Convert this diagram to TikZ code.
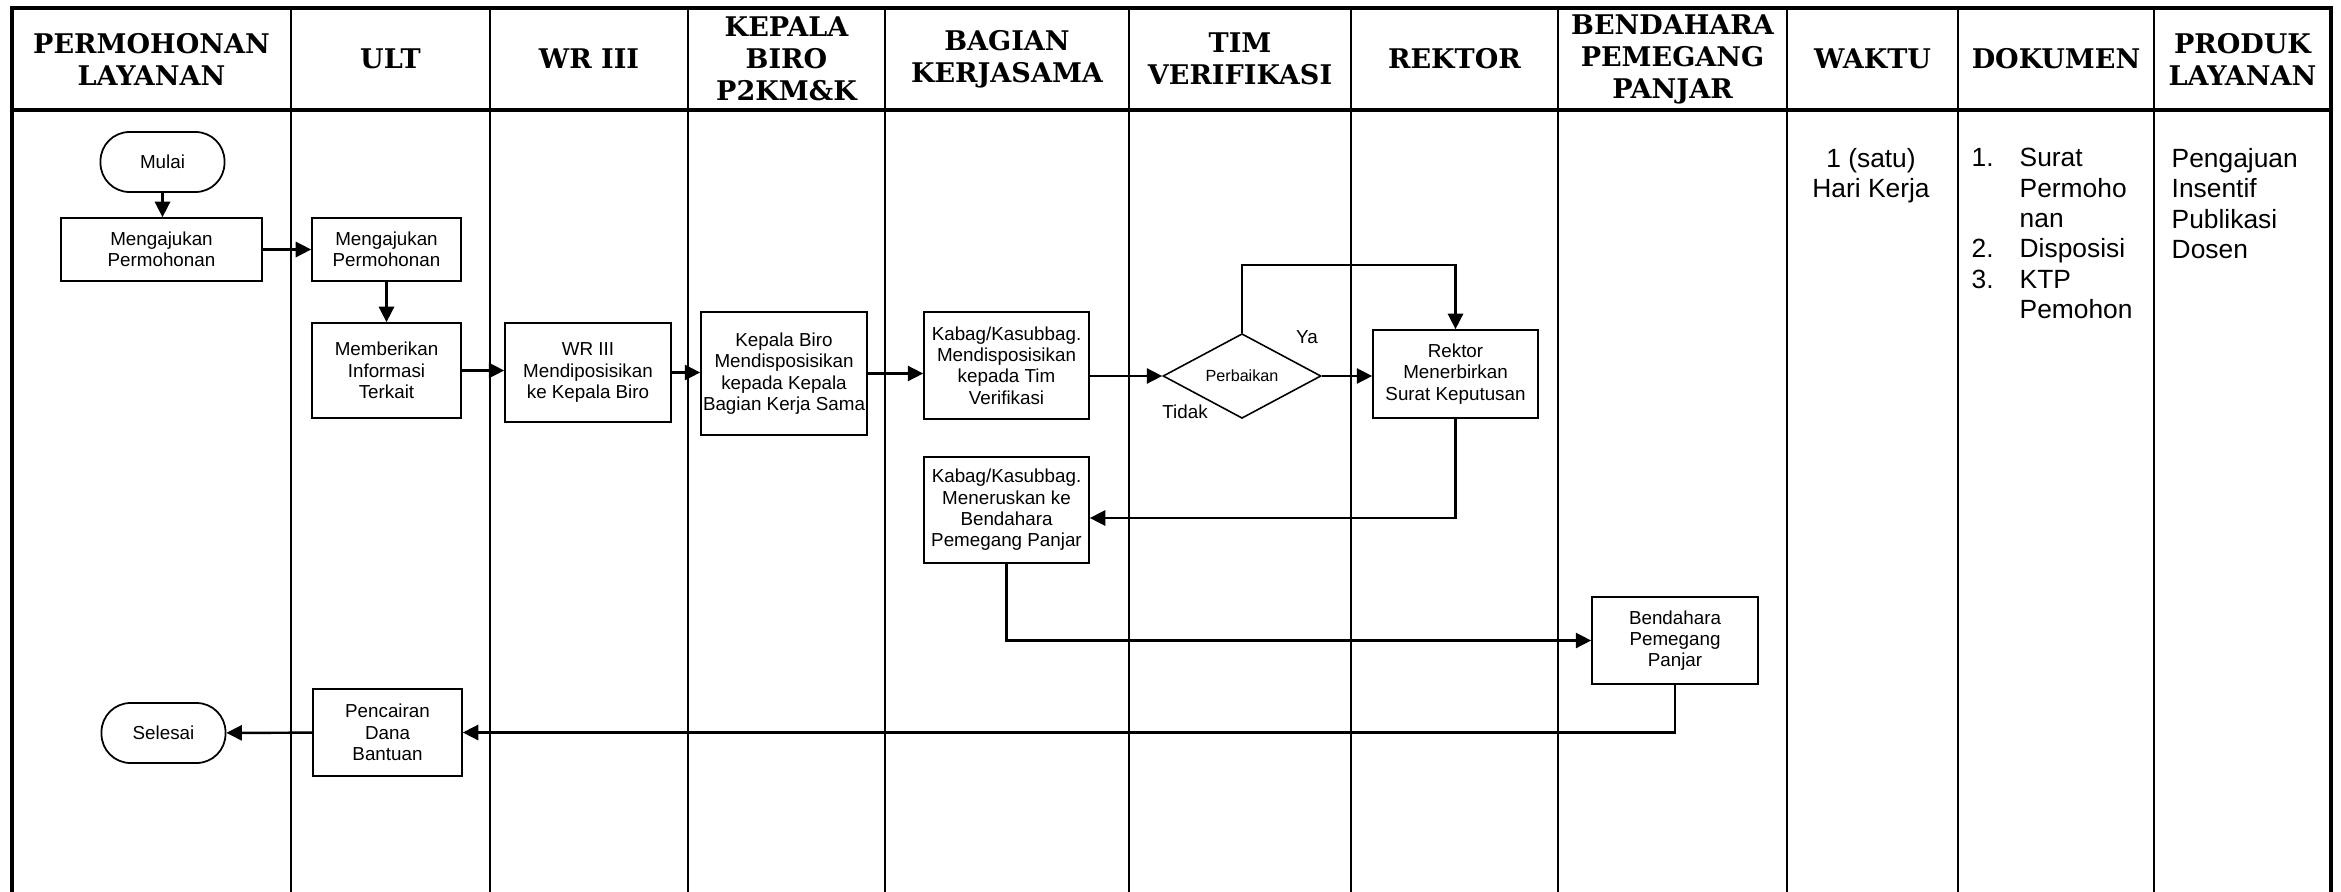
\documentclass[tikz,border=0pt]{standalone}
\usepackage{fontspec}
\setmainfont{Liberation Sans}
\newfontfamily\hdrfont{DejaVu Serif}
\usepackage{tikz}
\usetikzlibrary{shapes.geometric, arrows.meta, positioning, calc}

\begin{document}
\begin{tikzpicture}[
    frame/.style={line width=0.9pt},
    lane/.style={line width=0.6pt},
    hdr/.style={align=center, font=\hdrfont\bfseries\fontsize{7.7}{9.1}\selectfont, inner sep=0pt},
    proc/.style={rectangle, draw, line width=0.45pt, align=center, font=\fontsize{5.35}{6.05}\selectfont, inner sep=0.5pt},
    term/.style={rectangle, draw, rounded corners=0.29cm, line width=0.5pt, minimum width=1.24cm, minimum height=0.6cm, font=\fontsize{5.35}{6.05}\selectfont},
    decide/.style={diamond, draw, line width=0.45pt, minimum width=1.58cm, minimum height=0.8cm, inner sep=0pt, font=\fontsize{4.6}{5.5}\selectfont},
    arrow/.style={-{Triangle[length=4.4pt, width=4.3pt]}, line width=0.7pt},
    lbl/.style={font=\fontsize{5.35}{6.4}\selectfont, inner sep=0pt},
    info/.style={align=left, font=\fontsize{7.5}{8.65}\selectfont, inner sep=0pt, anchor=north west},
]
\useasboundingbox (0,0) rectangle (23.41,-8.92);

% table frame and lanes
\draw[frame] (0.12,-8.92) -- (0.12,-0.08) -- (23.31,-0.08) -- (23.31,-8.92);
\draw[frame] (0.12,-1.10) -- (23.31,-1.10);
\foreach \x in {2.91,4.90,6.88,8.85,11.29,13.51,15.58,17.87,19.58,21.54}
    \draw[lane] (\x,-0.08) -- (\x,-8.92);

% header
\node[hdr] (hPemohon) at (1.515,-0.59) {PERMOHONAN\\LAYANAN};
\node[hdr] (hUlt) at (3.905,-0.59) {ULT};
\node[hdr] (hWr) at (5.89,-0.59) {WR III};
\node[hdr] (hBiro) at (7.865,-0.59) {KEPALA\\BIRO\\P2KM\&K};
\node[hdr] (hKerjasama) at (10.07,-0.59) {BAGIAN\\KERJASAMA};
\node[hdr] (hTim) at (12.40,-0.59) {TIM\\VERIFIKASI};
\node[hdr] (hRektor) at (14.545,-0.59) {REKTOR};
\node[hdr] (hBendahara) at (16.725,-0.59) {BENDAHARA\\PEMEGANG\\PANJAR};
\node[hdr] (hWaktu) at (18.725,-0.59) {WAKTU};
\node[hdr] (hDokumen) at (20.56,-0.59) {DOKUMEN};
\node[hdr] (hProduk) at (22.425,-0.59) {PRODUK\\LAYANAN};

% flow
\node[term] (mulai) at (1.625,-1.62) {Mulai};
\node[proc, minimum width=2.01cm, minimum height=0.63cm] (ajuPemohon) at (1.615,-2.495) {Mengajukan\\Permohonan};
\node[proc, minimum width=1.49cm, minimum height=0.63cm] (ajuUlt) at (3.865,-2.495) {Mengajukan\\Permohonan};
\node[proc, minimum width=1.49cm, minimum height=0.95cm] (beriInfo) at (3.865,-3.705) {Memberikan\\Informasi\\Terkait};
\node[proc, minimum width=1.66cm, minimum height=0.99cm] (wrDispo) at (5.88,-3.725) {WR III\\Mendiposisikan\\ke Kepala Biro};
\node[proc, minimum width=1.66cm, minimum height=1.23cm] (biroDispo) at (7.84,-3.735) {Kepala Biro\\Mendisposisikan\\kepada Kepala\\Bagian Kerja Sama};
\node[proc, minimum width=1.65cm, minimum height=1.07cm] (kabagDispo) at (10.065,-3.655) {Kabag/Kasubbag.\\Mendisposisikan\\kepada Tim\\Verifikasi};
\node[decide] (perbaikan) at (12.42,-3.76) {Perbaikan};
\node[proc, minimum width=1.65cm, minimum height=0.88cm] (rektorSk) at (14.555,-3.74) {Rektor\\Menerbirkan\\Surat Keputusan};
\node[proc, minimum width=1.65cm, minimum height=1.06cm] (kabagTerus) at (10.065,-5.10) {Kabag/Kasubbag.\\Meneruskan ke\\Bendahara\\Pemegang Panjar};
\node[proc, minimum width=1.66cm, minimum height=0.87cm] (bendahara) at (16.75,-6.405) {Bendahara\\Pemegang\\Panjar};
\node[proc, minimum width=1.49cm, minimum height=0.87cm] (cair) at (3.875,-7.325) {Pencairan\\Dana\\Bantuan};
\node[term] (selesai) at (1.635,-7.33) {Selesai};

\node[lbl] (ya) at (13.07,-3.37) {Ya};
\node[lbl] (tidak) at (11.85,-4.12) {Tidak};

\draw[arrow] (mulai.south) -- (mulai.south |- ajuPemohon.north);
\draw[arrow] (ajuPemohon) -- (ajuUlt);
\draw[arrow] (ajuUlt) -- (beriInfo);
\draw[arrow] (beriInfo.east) -- (beriInfo.east -| wrDispo.west);
\draw[arrow] (wrDispo.east) -- (wrDispo.east -| biroDispo.west);
\draw[arrow] (biroDispo.east) -- (biroDispo.east -| kabagDispo.west);
\draw[arrow] (perbaikan.west -| kabagDispo.east) -- (perbaikan.west);
\draw[arrow] (perbaikan.east) -- (perbaikan.east -| rektorSk.west);
\draw[arrow] (perbaikan.north) |- ([yshift=0.64cm]rektorSk.north) -- (rektorSk.north);
\draw[arrow] (rektorSk.south) |- ([yshift=-0.08cm]kabagTerus.east);
\draw[arrow] (kabagTerus.south) |- (bendahara.west);
\draw[arrow] (bendahara.south) |- (cair.east);
\draw[arrow] (cair) -- (selesai);

% side columns
\node[info, anchor=north, align=center] (waktu) at (18.71,-1.475) {1 (satu)\\Hari Kerja};
\node[info] (dokumen) at (19.71,-1.475) {\makebox[0.48cm][l]{1.}Surat\\\hspace*{0.48cm}Permoho\\\hspace*{0.48cm}nan\\\makebox[0.48cm][l]{2.}Disposisi\\\makebox[0.48cm][l]{3.}KTP\\\hspace*{0.48cm}Pemohon};
\node[info] (produk) at (21.71,-1.475) {Pengajuan\\Insentif\\Publikasi\\Dosen};

\end{tikzpicture}
\end{document}
